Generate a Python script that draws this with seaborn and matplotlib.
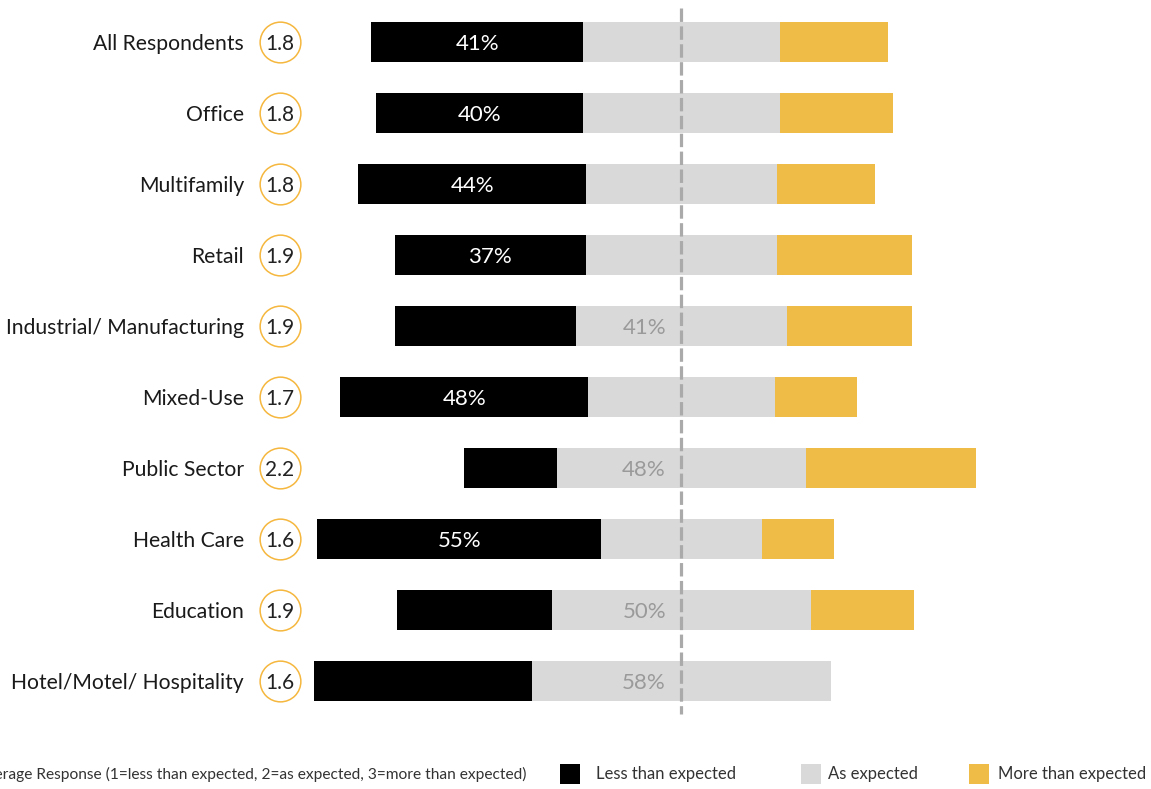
import matplotlib
matplotlib.use("Agg")
import matplotlib.pyplot as plt
import seaborn as sns
import pandas as pd
import numpy as np

categories = ["All Respondents", "Office", "Multifamily", "Retail", "Industrial/ Manufacturing",
              "Mixed-Use", "Public Sector", "Health Care", "Education", "Hotel/Motel/ Hospitality"]
less = [41, 40, 44, 37, 35, 48, 18, 55, 30, 42]
as_exp = [38, 38, 37, 37, 41, 36, 48, 31, 50, 58]
more = [21, 22, 19, 26, 24, 16, 33, 14, 20, 0]
avg = ["1.8", "1.8", "1.8", "1.9", "1.9", "1.7", "2.2", "1.6", "1.9", "1.6"]
legend_labels = ["Less than expected", "As expected", "More than expected"]
avg_note = "Average Response (1=less than expected, 2=as expected, 3=more than expected)"

C_BLACK = "#000000"
C_GRAY = "#D9D9D9"
C_GOLD = "#F0BC48"
C_CIRCLE = "#F5B73E"
C_TEXT = "#1a1a1a"

sns.set_theme(style="white")
plt.rcParams["font.family"] = ["Lato", "DejaVu Sans"]

df = pd.DataFrame({"cat": categories, "less": less, "as": as_exp, "more": more})
df["right_total"] = df["as"] / 2 + df["more"]
df["right_gray"] = df["as"] / 2
df["left_total"] = -(df["as"] / 2 + df["less"])
df["left_gray"] = -(df["as"] / 2)

W, H = 1151, 789
fig = plt.figure(figsize=(W / 100, H / 100), dpi=100)
ax = fig.add_axes([0, 0, 1, 1])

bw = 0.565
kw = dict(orient="h", width=bw, linewidth=0, saturation=1, ax=ax)
sns.barplot(data=df, x="right_total", y="cat", color=C_GOLD, **kw)
sns.barplot(data=df, x="right_gray", y="cat", color=C_GRAY, **kw)
sns.barplot(data=df, x="left_total", y="cat", color=C_BLACK, **kw)
sns.barplot(data=df, x="left_gray", y="cat", color=C_GRAY, **kw)

# pixel mapping
cx, scale = 681.5, 5.17
y0, dy = 42, 71
ax.set_xlim(-cx / scale, (W - cx) / scale)
ax.set_ylim((H - y0) / dy, -y0 / dy)
ax.axis("off")

# center dashed line
ax.plot([0, 0], [(8 - y0) / dy, (714 - y0) / dy], color="#AAAAAA", lw=2.3,
        dashes=(4.2, 1.4), solid_capstyle="butt", zorder=5)

lab_x = (244 - cx) / scale
circ_x = (280 - cx) / scale
gray_lab_x = (666 - cx) / scale
ty = 0.025
for i, c in enumerate(categories):
    ax.text(lab_x, i + ty, c, ha="right", va="center", fontsize=15.2, color=C_TEXT)
    ax.scatter([circ_x], [i], s=860, facecolor="white", edgecolor=C_CIRCLE, linewidth=1.1, zorder=6)
    ax.text(circ_x, i + ty, avg[i], ha="center", va="center", fontsize=15, color="#222222",
            zorder=7)
    if less[i] >= as_exp[i]:
        xc = -(as_exp[i] / 2) - less[i] / 2
        ax.text(xc, i + ty, f"{less[i]}%", ha="center", va="center", fontsize=16, color="white", zorder=7)
    else:
        ax.text(gray_lab_x, i + ty, f"{as_exp[i]}%", ha="right", va="center", fontsize=16,
                color="#9A9A9A", zorder=7)

# legend
ly = (774 - y0) / dy
ax.text((527 - cx) / scale, ly, avg_note, ha="right", va="center", fontsize=11.2, color="#333333")
sq = [(570, C_BLACK), (811, C_GRAY), (979, C_GOLD)]
tx = [596, 828, 998]
for (px, col), t, lbl in zip(sq, tx, legend_labels):
    ax.scatter([(px - cx) / scale], [ly], marker="s", s=190, color=col, linewidth=0, zorder=6)
    ax.text((t - cx) / scale, ly, lbl, ha="left", va="center", fontsize=12, color="#333333")

fig.savefig("out.png", dpi=100)
